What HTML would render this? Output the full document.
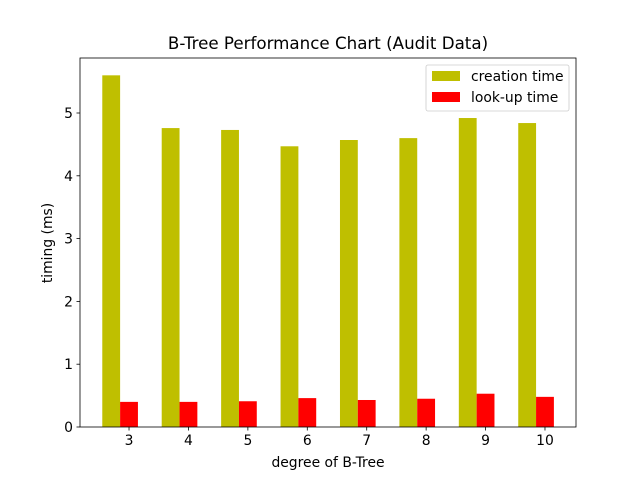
<!DOCTYPE html>
<html><head><meta charset="utf-8"><style>
body{margin:0;background:#fff;font-family:"Liberation Sans","DejaVu Sans",sans-serif;}
</style></head><body>
<svg width="640" height="480" xmlns="http://www.w3.org/2000/svg" font-family="DejaVu Sans, Liberation Sans, sans-serif">
<g id="plot"></g>
</svg>
<script>
const degrees=[3,4,5,6,7,8,9,10];
const creation=[5.60,4.76,4.73,4.47,4.57,4.60,4.92,4.84];
const lookup=[0.40,0.40,0.41,0.46,0.43,0.45,0.53,0.48];
const yTicks=[0,1,2,3,4,5];
const L=80,R=576,T=58,B=427;
const xmin=2.175,xmax=10.522,ymax=(B-T)/62.8;
const xs=v=>L+(v-xmin)/(xmax-xmin)*(R-L);
const ys=v=>B-v/ymax*(B-T);
const svg=document.querySelector('svg');
const NS='http://www.w3.org/2000/svg';
function mk(t,a,p){const e=document.createElementNS(NS,t);for(const k in a)e.setAttribute(k,a[k]);(p||svg).appendChild(e);return e;}
const w=xs(0.3)-xs(0);
degrees.forEach((d,i)=>{
 let r=mk('rect',{x:xs(d-0.45),y:ys(creation[i]),width:w,height:ys(0)-ys(creation[i]),fill:'#bfbf00'});
 
 
 r=mk('rect',{x:xs(d-0.15),y:ys(lookup[i]),width:w,height:ys(0)-ys(lookup[i]),fill:'#ff0000'});
 
 
 mk('line',{x1:xs(d),x2:xs(d),y1:B,y2:B+3.5,stroke:'#000','stroke-width':0.8});
 const t=mk('text',{x:xs(d),y:B+18,'font-size':13.9,'text-anchor':'middle'});t.textContent=d;
 
 
});
yTicks.forEach(v=>{
 mk('line',{x1:L-3.5,x2:L,y1:ys(v),y2:ys(v),stroke:'#000','stroke-width':0.8});
 const t=mk('text',{x:L-7,y:ys(v)+5,'font-size':13.9,'text-anchor':'end'});t.textContent=v;
 
 
});
const f=mk('rect',{x:L,y:T,width:R-L,height:B-T,fill:'none',stroke:'#000','stroke-width':0.8});


let t=mk('text',{x:328,y:49,'font-size':16.7,'text-anchor':'middle'});t.textContent='B-Tree Performance Chart (Audit Data)';


t=mk('text',{x:328,y:467,'font-size':13.9,'text-anchor':'middle'});t.textContent='degree of B-Tree';


t=mk('text',{x:52,y:243,'font-size':13.9,'text-anchor':'middle',transform:'rotate(-90 52 243)'});t.textContent='timing (ms)';


const lg=mk('g',{});


mk('rect',{x:426,y:65,width:143,height:46,rx:2,fill:'#fff',stroke:'#ccc','stroke-width':0.8},lg);
mk('rect',{x:432,y:71,width:28,height:10,fill:'#bfbf00'},lg);
mk('rect',{x:432,y:92,width:28,height:10,fill:'#ff0000'},lg);
t=mk('text',{x:471,y:81,'font-size':13.9},lg);t.textContent='creation time';


t=mk('text',{x:471,y:102,'font-size':13.9},lg);t.textContent='look-up time';


</script>
</body></html>
